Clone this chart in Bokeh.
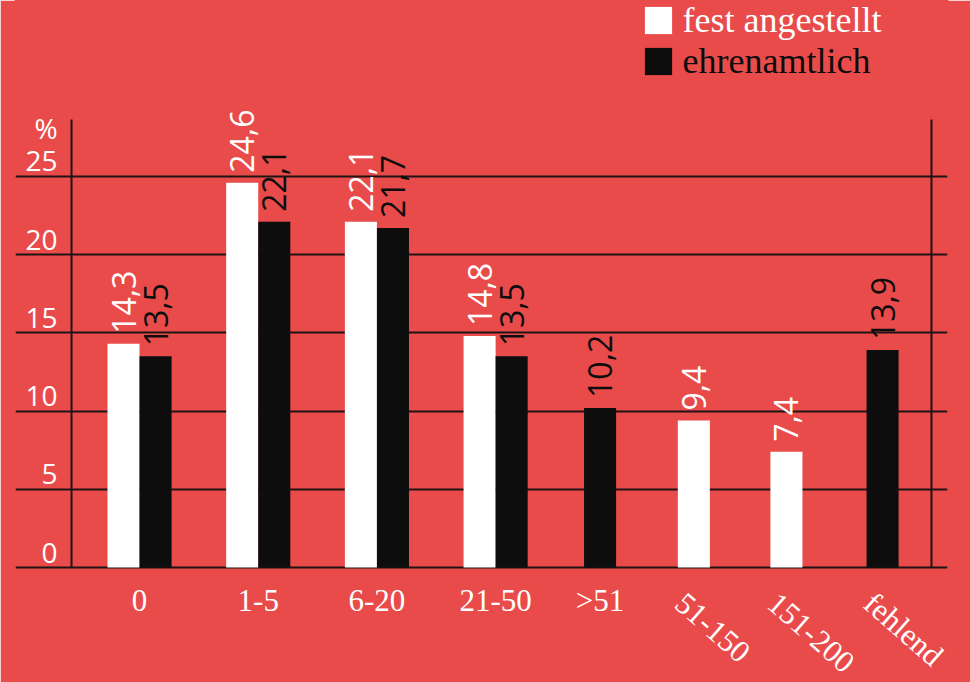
import math
from bokeh.plotting import figure
from bokeh.models import ColumnDataSource, Range1d, FixedTicker, Legend, LegendItem
from bokeh.core.properties import value
from bokeh.embed import file_html
from bokeh.resources import INLINE

# ---- data ----
categories = ["0", "1-5", "6-20", "21-50", ">51", "51-150", "151-200", "fehlend"]
fest_angestellt = [14.3, 24.6, 22.1, 14.8, None, 9.4, 7.4, None]
ehrenamtlich = [13.5, 22.1, 21.7, 13.5, 10.2, None, None, 13.9]
y_ticks = [0, 5, 10, 15, 20, 25]
y_unit = "%"
series_names = ["fest angestellt", "ehrenamtlich"]

# ---- layout / style ----
group_pos = [0, 1, 2, 3, 3.88, 4.67, 5.45, 6.26]
N_FLAT = 5                  # first categories with horizontal labels
BAR_W = 0.27
X_RANGE = (-1.045, 6.807)
Y_RANGE = (-7.352, 36.25)
FRAME_X = (-0.573, 6.672)   # the two vertical rules
FRAME_TOP = 28.65
RED = "#E94B4B"
WHITE = "#FFFFFF"
BLACK = "#0D0D0D"
LINE = "#1E1414"
SANS = "Open Sans"
SERIF = "Liberation Serif"


def fmt(v):
    return f"{v:.1f}".replace(".", ",")


def series_source(vals, other, sign):
    xs, tops, labels = [], [], []
    for pos, v, o in zip(group_pos, vals, other):
        if v is None:
            continue
        off = sign * BAR_W / 2 if o is not None else 0
        xs.append(pos + off)
        tops.append(v)
        labels.append(fmt(v))
    return ColumnDataSource(dict(x=xs, top=tops, label=labels))


src_f = series_source(fest_angestellt, ehrenamtlich, -1)
src_e = series_source(ehrenamtlich, fest_angestellt, +1)

p = figure(width=970, height=682, output_backend="svg", toolbar_location=None,
           x_range=Range1d(*X_RANGE), y_range=Range1d(*Y_RANGE),
           x_axis_location=None, y_axis_location=None,
           min_border_left=15, min_border_right=23, min_border_top=0,
           min_border_bottom=0,
           background_fill_color=RED, border_fill_color=RED,
           outline_line_color=RED, outline_line_width=2)

# grid (the 0 line doubles as the category baseline)
p.xgrid.visible = False
p.ygrid.ticker = FixedTicker(ticks=y_ticks)
p.ygrid.grid_line_color = LINE
p.ygrid.grid_line_width = 2

# vertical rules
p.segment(x0=list(FRAME_X), y0=[0, 0], x1=list(FRAME_X), y1=[FRAME_TOP] * 2,
          line_color=LINE, line_width=2)

# bars
r_f = p.vbar(x="x", top="top", width=BAR_W, bottom=0, source=src_f,
             fill_color=WHITE, line_color=None)
r_e = p.vbar(x="x", top="top", width=BAR_W, bottom=0, source=src_e,
             fill_color=BLACK, line_color=None)

# value labels
p.text(x="x", y="top", text="label", source=src_f, angle=math.pi / 2,
       text_align="left", text_baseline="middle", text_font=value(SANS),
       text_font_size="32px", text_color=WHITE, y_offset=-10)
p.text(x="x", y="top", text="label", source=src_e, angle=math.pi / 2,
       text_align="left", text_baseline="middle", text_font=value(SANS),
       text_font_size="32px", text_color=BLACK, y_offset=-10)

# y tick labels (above gridlines, left of the left rule)
ysrc = ColumnDataSource(dict(x=[FRAME_X[0]] * len(y_ticks), y=y_ticks,
                             text=[str(t) for t in y_ticks]))
p.text(x="x", y="y", text="text", source=ysrc, text_align="right",
       text_baseline="middle", x_offset=-14, y_offset=-15,
       text_font=value(SANS), text_font_size="28px", text_color=WHITE)
p.text(x=[FRAME_X[0]], y=[y_ticks[-1]], text=[y_unit], text_align="right",
       text_baseline="middle", x_offset=-14, y_offset=-48,
       text_font=value(SANS), text_font_size="28px", text_color=WHITE)

# category labels: horizontal ones, then slanted ones
flat = ColumnDataSource(dict(x=group_pos[:N_FLAT], y=[0] * N_FLAT,
                             text=categories[:N_FLAT]))
p.text(x="x", y="y", text="text", source=flat, text_align="center",
       text_baseline="middle", y_offset=33, text_font=value(SERIF),
       text_font_size="31px", text_color=WHITE)
n_slant = len(categories) - N_FLAT
slant = ColumnDataSource(dict(x=group_pos[N_FLAT:], y=[0] * n_slant,
                              text=categories[N_FLAT:]))
p.text(x="x", y="y", text="text", source=slant, angle=-0.72,
       text_align="left", text_baseline="middle", x_offset=-14, y_offset=31,
       text_font=value(SERIF), text_font_size="31px", text_color=WHITE)

# legends
common = dict(glyph_width=34, glyph_height=34, label_standoff=8, padding=0,
              margin=0, spacing=0, border_line_color=None,
              background_fill_alpha=0, label_text_font=SERIF,
              label_text_font_size="36px", label_height=34)
leg1 = Legend(items=[LegendItem(label=series_names[0], renderers=[r_f])],
              location=(625.6, 640.6), label_text_color=WHITE, **common)
leg2 = Legend(items=[LegendItem(label=series_names[1], renderers=[r_e])],
              location=(625.6, 599.6), label_text_color=BLACK, **common)
p.add_layout(leg1)
p.add_layout(leg2)

html = file_html(p, INLINE)
html = html.replace("<body>", '<body style="background-color:#E94B4B;">', 1)
open("out.html", "w").write(html)
